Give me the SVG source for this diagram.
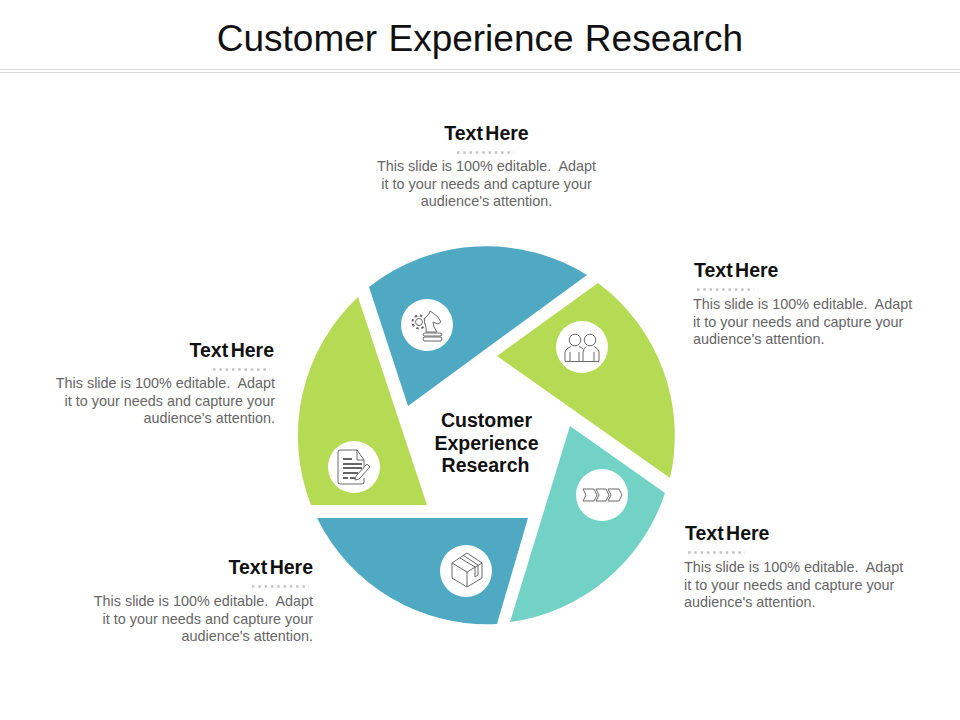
<svg xmlns="http://www.w3.org/2000/svg" width="960" height="720" viewBox="0 0 960 720">
<style>
text{font-family:"Liberation Sans",Arial,sans-serif;white-space:pre}
.h{font-size:19.5px;font-weight:700;fill:#111;word-spacing:-3px}
.b{font-size:14.4px;fill:#666}
.c{font-size:19.500px;font-weight:700;fill:#111;text-anchor:middle}
.m{text-anchor:middle}.e{text-anchor:end}
.d{stroke:#c4c4c4;stroke-width:2.5;stroke-dasharray:2.500 3.800;fill:none}
.i{fill:none;stroke:#6a6a6a;stroke-width:1;stroke-linejoin:round}
.iw{fill:#fff;stroke:#6a6a6a;stroke-width:1;stroke-linejoin:round}
.w{fill:#fff}
</style>
<rect width="960" height="720" fill="#fff"/>
<g id="title"><text x="480" y="51" font-size="37" class="m" fill="#111" word-spacing="1">Customer Experience Research</text>
<path d="M0 69.5H960M0 72.5H960" stroke="#d9d9d9" stroke-width="1" fill="none"/></g>
<g id="segment-top"><path d="M369 287A190 190 0 0 1 587 275L408 406Z" fill="#50a9c3"/><circle class="w" cx="427" cy="325" r="26"/>
<circle class="i" cx="419" cy="322" r="3.500"/><circle cx="419" cy="322" r="6.500" fill="none" stroke="#6a6a6a" stroke-width="2" stroke-dasharray="2.500 2.600"/>
<path class="iw" d="M426 332C427 326 423 322 425 318L429 314L430 311L433 313L438 317L441 322L438 324L433 322L434 327L437 332Z"/>
<path class="iw" d="M425 333H440Q442 333 442 335Q442 336 440 336H425Q423 336 423 335Q423 333 425 333ZM424 337H441Q443 339 441 341H424Q422 339 424 337Z"/></g>
<g id="segment-right"><path d="M598 283A190 190 0 0 1 670 478L497 356Z" fill="#b5da54"/><circle class="w" cx="582" cy="347" r="26"/>
<circle class="i" cx="575" cy="340" r="5.800"/><circle class="i" cx="590" cy="340" r="5.800"/>
<path class="i" d="M565 361V352Q566 348 571 346.500M579 346.500Q581 347 583 349M583 361V352Q584 348 586 346.500M594 346.500Q598 348 599 352V361M570 352V361M579 352V361M594 352V361M565 361.500H599"/></g>
<g id="segment-lower-right"><path d="M665 493A190 190 0 0 1 510 622L570 426Z" fill="#72d2c5"/><circle class="w" cx="602" cy="495" r="26"/>
<path class="i" d="M583 489H594L597 495L594 501H583L586 495ZM596 489H606L609 495L606 501H596L599 495ZM608 489H619L622 495L619 501H608L611 495Z"/></g>
<g id="segment-bottom"><path d="M497 624A190 190 0 0 1 317 518H528Z" fill="#50a9c3"/><circle class="w" cx="466" cy="571" r="26"/>
<path class="i" d="M452 563L467 553L482 563V578L467 587L452 578ZM452 563L467 572L482 563M467 572V587M460 558L475 567V577L478 575V565L463.500 555.500"/></g>
<g id="segment-left"><path d="M311 505A190 190 0 0 1 358 297L427 505Z" fill="#b5da54"/><circle class="w" cx="354" cy="467" r="26"/>
<path class="i" d="M364 467V460L357 450H340Q338 450 338 452V482Q338 484 340 484H362Q364 484 364 482V478M357 450V460H364"/>
<path d="M343 459H352M343 464H362M343 468H362M343 473H358M343 478H348M350 478H355" stroke="#333" stroke-width="1.300" fill="none"/>
<path class="iw" d="M356 476L367 464L370 467L359 479L355 480Z"/></g>
<g id="center"><text class="c" x="486.500" y="427">Customer</text><text class="c" x="486.500" y="450">Experience</text><text class="c" x="485.500" y="472">Research</text></g>
<g id="label-top"><text class="h m" x="486.500" y="140">Text Here</text><path class="d" d="M457 152.500H514"/>
<text class="b m" x="486.500" y="171">This slide is 100% editable.  Adapt</text><text class="b m" x="486.500" y="189">it to your needs and capture your</text><text class="b m" x="486.500" y="206">audience's attention.</text></g>
<g id="label-right"><text class="h" x="694" y="277">Text Here</text><path class="d" d="M697 289.500H754"/>
<text class="b" x="693" y="309">This slide is 100% editable.  Adapt</text><text class="b" x="693" y="327">it to your needs and capture your</text><text class="b" x="693" y="344">audience's attention.</text></g>
<g id="label-lower-right"><text class="h" x="685" y="540">Text Here</text><path class="d" d="M688 552.500H745"/>
<text class="b" x="684" y="572">This slide is 100% editable.  Adapt</text><text class="b" x="684" y="590">it to your needs and capture your</text><text class="b" x="684" y="607">audience's attention.</text></g>
<g id="label-bottom"><text class="h e" x="313" y="574">Text Here</text><path class="d" d="M252 586.500H309"/>
<text class="b e" x="313" y="606">This slide is 100% editable.  Adapt</text><text class="b e" x="313" y="624">it to your needs and capture your</text><text class="b e" x="313" y="641">audience's attention.</text></g>
<g id="label-left"><text class="h e" x="274" y="357">Text Here</text><path class="d" d="M213 369.500H270"/>
<text class="b e" x="275" y="388">This slide is 100% editable.  Adapt</text><text class="b e" x="275" y="406">it to your needs and capture your</text><text class="b e" x="275" y="423">audience's attention.</text></g>
</svg>
